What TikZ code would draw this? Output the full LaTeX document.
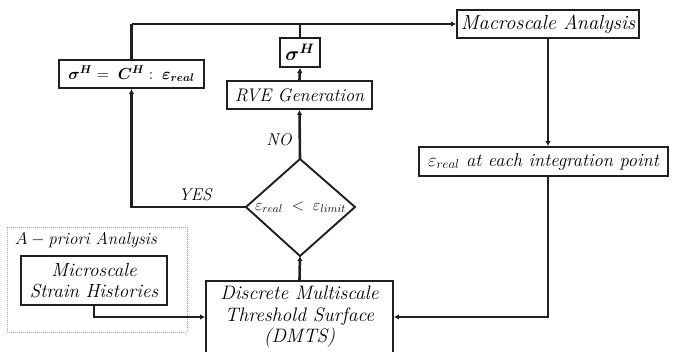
\RequirePackage{fix-cm}
\documentclass[tikz,border=0pt]{standalone}
\usepackage{amsmath}
\usepackage{bm}
\usepackage{fontspec}
\usetikzlibrary{arrows.meta}
\begin{document}
\begin{tikzpicture}[x=1pt,y=-1pt,
  box/.style={draw=black!88,line width=1.9pt,inner sep=0pt,font=\fontsize{19.5}{23}\selectfont\itshape},
  conn/.style={line width=2.6pt,draw=black!88},
  arr/.style={conn,-{Latex[length=5pt,width=5.5pt]}},
  lbl/.style={font=\fontsize{17}{20}\selectfont\itshape}]
\useasboundingbox (0,0) rectangle (674,351);
\clip (0,0) rectangle (674,351);
% gray a-priori box
\node[draw=gray!70,densely dotted,line width=1pt,minimum width=180pt,minimum height=105pt,inner sep=0pt] (apriori) at (97,279.5) {};
\node[anchor=west,font=\fontsize{17}{19}\selectfont\itshape,inner sep=0pt] (aplbl) at (15,240) {$A-\mathit{priori\ Analysis}$};
% boxes
\node[box,minimum width=182pt,minimum height=28pt,font=\fontsize{20.3}{23}\selectfont\itshape] (macro) at (548,24) {Macroscale Analysis};
\node[box,minimum width=40pt,minimum height=29pt] (sigH) at (300,52.5) {$\bm{\sigma}^{\bm{H}}$};
\node[box,minimum width=145pt,minimum height=28pt,font=\fontsize{16}{18}\selectfont] (form) at (131.5,74) {$\bm{\sigma}^{\bm{H}}=\;\bm{C}^{\bm{H}}:\;\bm{\varepsilon}_{\bm{real}}$};
\node[box,minimum width=145pt,minimum height=28pt,font=\fontsize{18.2}{21}\selectfont\itshape] (rve) at (299.5,95) {RVE Generation};
\node[box,minimum width=249pt,minimum height=29pt,font=\fontsize{18.5}{21}\selectfont\itshape] (ereal) at (543.5,161.5) {$\varepsilon_{real}$ at each integration point};
\node[box,minimum width=187pt,minimum height=72pt,align=center] (dmts) at (299.5,317) {};
\node[font=\fontsize{19.5}{21.5}\selectfont\itshape,align=center,anchor=north,inner sep=0pt] (dmtstxt) at (299.5,286) {Discrete Multiscale\\Threshold Surface\\(DMTS)};
\node[box,minimum width=146pt,minimum height=49pt,align=center,font=\fontsize{19}{21}\selectfont\itshape] (micro) at (94,280.5) {Microscale\\Strain Histories};
% diamond
\coordinate (dT) at (300,159);
\coordinate (dB) at (300,256);
\coordinate (dL) at (246,207);
\coordinate (dR) at (355,207);
\draw[draw=black!88,line width=1.9pt] (dT) -- (dR) -- (dB) -- (dL) -- cycle;
\node[font=\fontsize{16}{18}\selectfont,text=black!80!blue,inner sep=0pt] (dtxt) at (300.5,207) {$\varepsilon_{real}\;<\;\varepsilon_{limit}$};
% labels
\node[lbl] (no) at (279,140) {NO};
\node[lbl] (yes) at (195,195) {YES};
% connectors
\coordinate (topL) at (form.north |- 0,24);
\draw[conn] (form.north) -- (topL);
\draw[arr] (topL) -- (macro.west);
\draw[conn] (sigH.north) -- (sigH.north |- macro.west);
\draw[arr] (rve.north) -- (sigH.south);
\draw[arr] (macro.south) -- (macro.south |- ereal.north);
\coordinate (eb) at (macro.south |- ereal.south);
\draw[arr] (eb) |- (dmts.east);
\draw[arr] (dmts.north) -- (dB);
\draw[arr] (dT) -- (rve.south);
\draw[arr] (dL) -| (form.south);
\draw[arr] (micro.south) |- (dmts.west);
\end{tikzpicture}
\end{document}
